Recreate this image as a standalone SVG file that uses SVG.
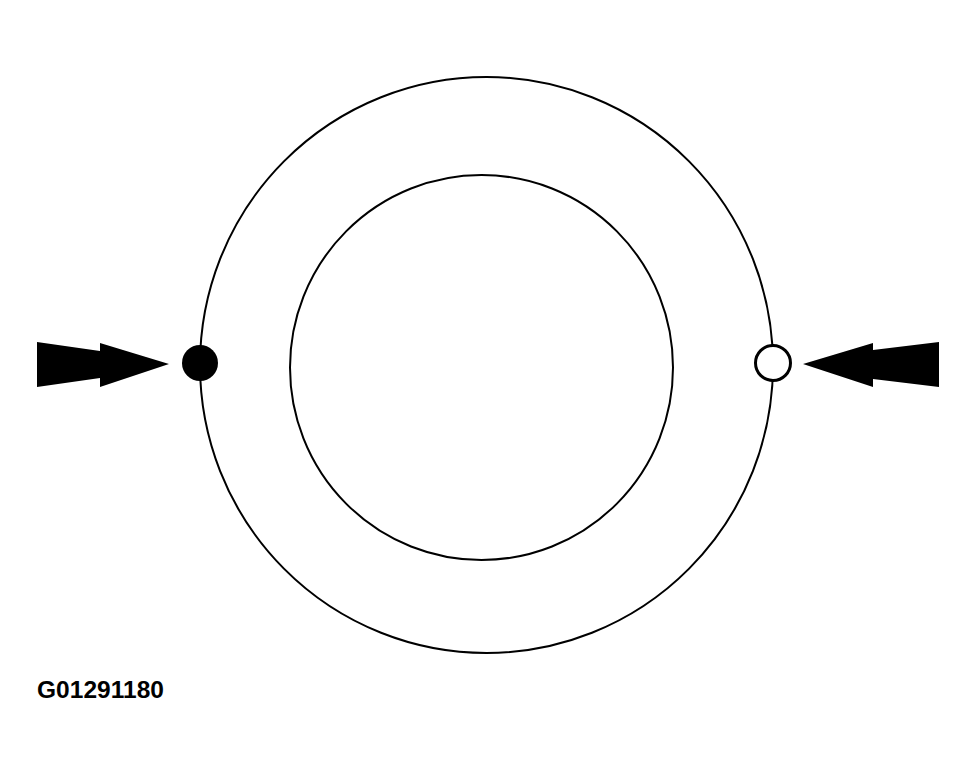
<svg xmlns="http://www.w3.org/2000/svg" width="977" height="774" viewBox="0 0 977 774">
<style>
.ring{fill:none;stroke:#000;stroke-width:2}
.arrow{fill:#000;stroke:none}
.lbl{font-family:"Liberation Sans",Arial,sans-serif;font-size:24.5px;font-weight:bold;fill:#000}
</style>
<rect width="977" height="774" fill="#fff"/>
<g id="outer-ring"><ellipse class="ring" cx="486.5" cy="365" rx="286.5" ry="288"/></g>
<g id="inner-ring"><ellipse class="ring" cx="481.5" cy="367.5" rx="191.5" ry="192.5"/></g>
<g id="filled-dot"><circle cx="200" cy="363" r="18" fill="#000"/></g>
<g id="open-dot"><circle cx="773" cy="363" r="17.5" fill="#fff" stroke="#000" stroke-width="3"/></g>
<g id="connectors">
<polygon id="left-arrow" class="arrow" points="37,342 100,351 100,343 169,364 100,387 100,378 37,387"/>
<polygon id="right-arrow" class="arrow" points="939,342 873,350 873,343 803,364 873,387 873,379 939,387"/>
</g>
<g id="label"><text class="lbl" x="37" y="697.5" textLength="127" lengthAdjust="spacing">G01291180</text></g>
</svg>
